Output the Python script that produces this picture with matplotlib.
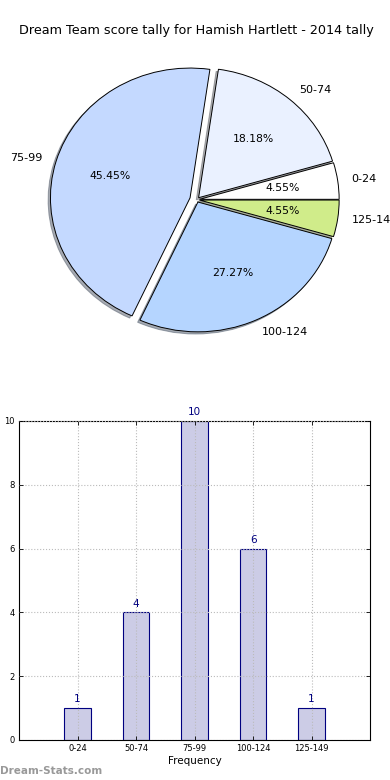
import matplotlib
matplotlib.use("Agg")
import matplotlib.pyplot as plt

# 分數區間與次數
categories = ["0-24", "50-74", "75-99", "100-124", "125-149"]
counts = [1, 4, 10, 6, 1]

pie_colors = ["#ffffff", "#eaf1ff", "#c4d9ff", "#b5d5ff", "#d0ec8a"]
explode = [0.02, 0.02, 0.05, 0.02, 0.02]

bar_labels = ["0-24", "50-74", "75-99", "100-124", "125-149"]
bar_counts = [1, 4, 10, 6, 1]

fig = plt.figure(figsize=(3.9, 7.8), dpi=100)

# 圓餅圖
ax1 = fig.add_axes([0.057, 0.536, 0.895, 0.416])
wedges, texts, autotexts = ax1.pie(
    counts, labels=categories, colors=pie_colors, explode=explode,
    autopct="%1.2f%%", pctdistance=0.6, labeldistance=1.1,
    shadow={"ox": -0.012, "oy": -0.012, "shade": 0.6},
    startangle=0, wedgeprops={"edgecolor": "black", "linewidth": 0.7},
    textprops={"fontsize": 7.8},
)
for t in texts:
    t.set_fontsize(8)
ax1.set_aspect("auto")
ax1.set_xlim(-1.25, 1.25)
ax1.set_ylim(-1.25, 1.25)
ax1.set_title("Dream Team score tally for Hamish Hartlett - 2014 tally",
              fontsize=9.2, pad=1)

# 長條圖
ax2 = fig.add_axes([0.049, 0.0513, 0.9, 0.409])
x = list(range(len(bar_labels)))
bars = ax2.bar(x, bar_counts, width=0.45, color="#ccccE6",
               edgecolor="#000080", linewidth=0.8)
for xi, v in zip(x, bar_counts):
    ax2.text(xi, v + 0.12, str(v), ha="center", va="bottom",
             fontsize=7.5, color="#000080")
ax2.set_xlim(-1, 5)
ax2.set_ylim(0, 10)
ax2.set_xticks(x)
ax2.set_xticklabels(bar_labels)
ax2.set_yticks(range(0, 11, 2))
ax2.tick_params(labelsize=6, direction="in", top=True, right=True,
                length=3, width=0.6, pad=3)
ax2.grid(True, linestyle=":", color="#bbbbbb", linewidth=0.8)
ax2.set_axisbelow(False)
ax2.set_xlabel("Frequency", fontsize=7.5, labelpad=2)
ax2.set_ylabel("Number of Times", fontsize=7.5, labelpad=7)

fig.text(0.0, 0.005, "Dream-Stats.com", fontsize=7.5, color="#999999",
         fontweight="bold", ha="left", va="bottom")

fig.savefig("out.png", dpi=100)
